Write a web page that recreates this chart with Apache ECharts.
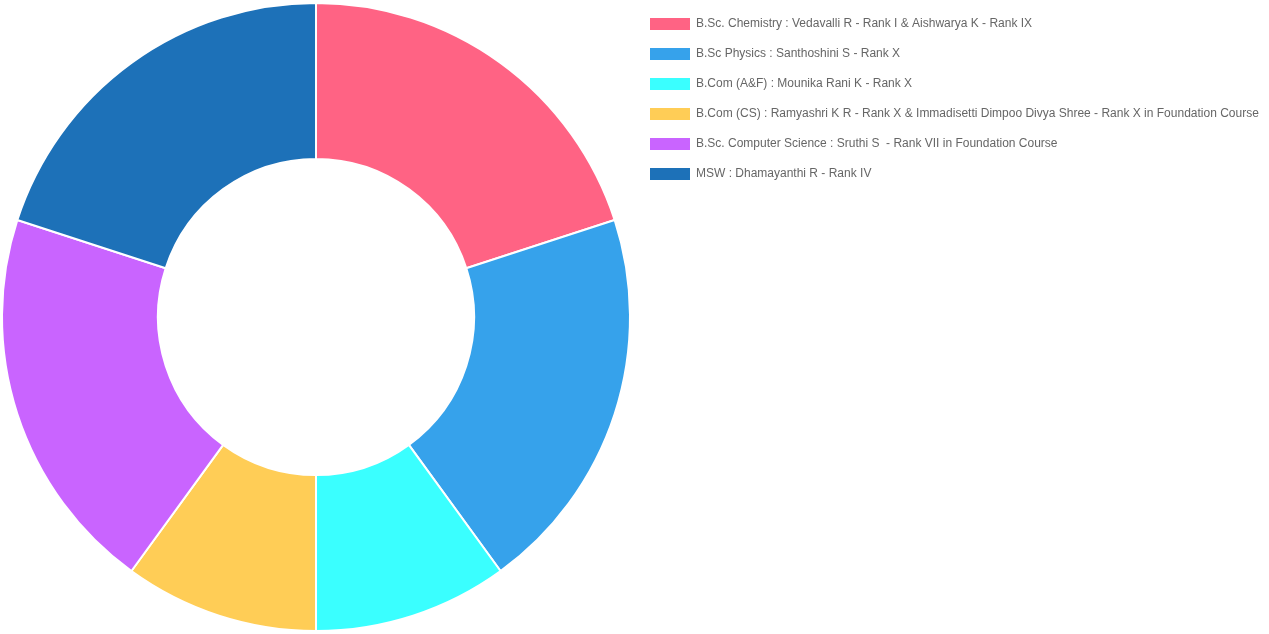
<!DOCTYPE html>
<html>
<head>
<meta charset="utf-8">
<script src="https://cdn.jsdelivr.net/npm/echarts@6/dist/echarts.min.js"></script>
<style>
  html, body { margin: 0; padding: 0; background: #fff; }
  #chart { width: 1269px; height: 634px; }
</style>
</head>
<body>
<div id="chart"></div>
<script>
const categories = [
  'B.Sc. Chemistry : Vedavalli R - Rank I & Aishwarya K - Rank IX',
  'B.Sc Physics : Santhoshini S - Rank X',
  'B.Com (A&F) : Mounika Rani K - Rank X',
  'B.Com (CS) : Ramyashri K R - Rank X & Immadisetti Dimpoo Divya Shree - Rank X in Foundation Course',
  'B.Sc. Computer Science : Sruthi S  - Rank VII in Foundation Course',
  'MSW : Dhamayanthi R - Rank IV'
];
const values = [2, 2, 1, 1, 2, 2];
const colors = ['#ff6384', '#36a2eb', '#3affff', '#ffcd56', '#c964ff', '#1d71b8'];

const chart = echarts.init(document.getElementById('chart'));
chart.setOption({
  animation: false,
  color: colors,
  legend: {
    orient: 'vertical',
    left: 650,
    top: 18,
    padding: 0,
    itemWidth: 40,
    itemHeight: 12,
    itemGap: 18,
    icon: 'rect',
    itemStyle: { borderWidth: 0 },
    textStyle: { color: '#666', fontSize: 12, fontFamily: 'Liberation Sans, Arial, sans-serif', padding: [0, 0, 0, 1] },
    data: categories
  },
  series: [{
    type: 'pie',
    center: [316, 317],
    radius: [158, 314],
    startAngle: 90,
    clockwise: true,
    label: { show: false },
    labelLine: { show: false },
    itemStyle: { borderColor: '#fff', borderWidth: 2 },
    emphasis: { disabled: true },
    data: categories.map((name, i) => ({ name: name, value: values[i] }))
  }]
});
</script>
</body>
</html>
